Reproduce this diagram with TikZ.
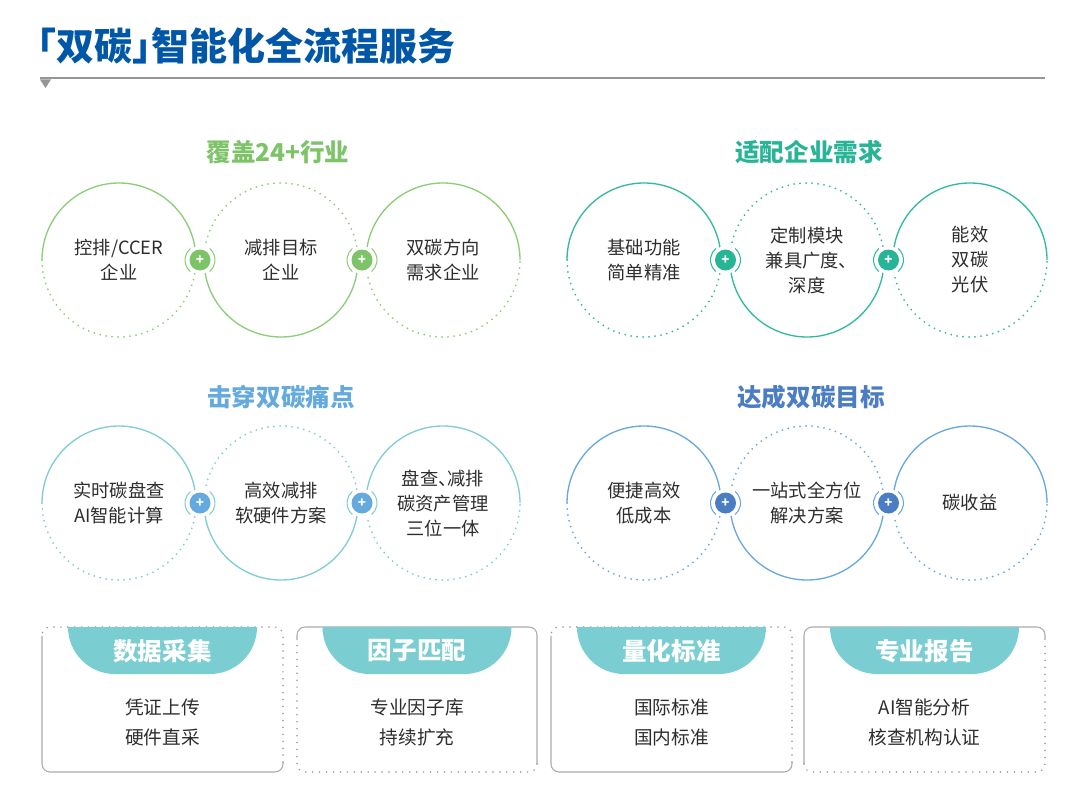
\documentclass[tikz,border=0pt]{standalone}
\usepackage{fontspec}
\setmainfont{Noto Sans CJK SC}[RawFeature=+halt]
\usepackage{tikz}
\usetikzlibrary{calc}
\definecolor{titleblue}{RGB}{0,87,168}
\definecolor{rulegray}{RGB}{150,150,150}
\definecolor{bodytext}{RGB}{45,45,45}
\definecolor{greentitle}{RGB}{125,196,105}
\definecolor{greenline}{RGB}{140,205,120}
\definecolor{tealtitle}{RGB}{40,180,150}
\definecolor{tealline}{RGB}{50,186,156}
\definecolor{skytitle}{RGB}{100,170,222}
\definecolor{skyline}{RGB}{128,205,210}
\definecolor{bluetitle}{RGB}{75,125,195}
\definecolor{blueline}{RGB}{105,168,222}
\definecolor{tabfill}{RGB}{122,205,208}
\tikzset{
  bubble/.style={circle, minimum size=110pt, inner sep=0pt, align=center,
                 font=\fontsize{13.7}{18.75}\selectfont, text=bodytext},
  ringsolid/.style={#1, line width=1pt},
  ringdots/.style={#1, line width=1.5pt, line cap=round, dash pattern=on 0pt off 4.5pt},
  knock/.style={circle, fill=white, minimum size=21pt, inner sep=0pt},
  plusdot/.style={circle, fill=#1, text=white, minimum size=15.75pt, inner sep=0pt,
                  font=\fontsize{10}{10}\selectfont\bfseries},
  grouptitle/.style={font=\fontsize{18.4}{20}\selectfont\bfseries, text=#1},
  boxline/.style={rulegray!80, line width=0.8pt, rounded corners=6pt},
  boxdots/.style={rulegray, line width=1.3pt, line cap=round, dash pattern=on 0pt off 5.2pt,
                  rounded corners=6pt},
  tabtext/.style={font=\fontsize{18.4}{20}\selectfont\bfseries, text=white},
  boxtext/.style={align=center, font=\fontsize{14}{22.5}\selectfont, text=bodytext},
}
\begin{document}
\begin{tikzpicture}[x=0.75pt, y=-0.75pt]
  \useasboundingbox (0,0) rectangle (1077,795);
  % heading and rule
  \node[anchor=west, inner sep=0pt, font=\fontsize{28.5}{30}\selectfont\bfseries, text=titleblue]
    (title) at (37,46) {「双碳」智能化全流程服务};
  \draw[rulegray, line width=0.8pt] (40,78) -- (1045,78);
  \fill[rulegray] (40,79.5) -- (51,79.5) -- (45.5,88) -- cycle;
  % four groups of circles
  \node[grouptitle=greentitle] (g1-t) at (278,152) {覆盖24+行业};
  \node[bubble] (g1-a) at (119,260) {控排/CCER\\企业};
  \node[bubble] (g1-b) at (281,260) {减排目标\\企业};
  \node[bubble] (g1-c) at (443,260) {双碳方向\\需求企业};
  \node[grouptitle=tealtitle] (g2-t) at (809,152) {适配企业需求};
  \node[bubble] (g2-a) at (644,260) {基础功能\\简单精准};
  \node[bubble] (g2-b) at (807,260) {定制模块\\兼具广度、\\深度};
  \node[bubble] (g2-c) at (970,260) {能效\\双碳\\光伏};
  \node[grouptitle=skytitle] (g3-t) at (281,397) {击穿双碳痛点};
  \node[bubble] (g3-a) at (119,503) {实时碳盘查\\AI智能计算};
  \node[bubble] (g3-b) at (281,503) {高效减排\\软硬件方案};
  \node[bubble] (g3-c) at (443,503) {盘查、减排\\碳资产管理\\三位一体};
  \node[grouptitle=bluetitle] (g4-t) at (811,397) {达成双碳目标};
  \node[bubble] (g4-a) at (644,503) {便捷高效\\低成本};
  \node[bubble] (g4-b) at (807,503) {一站式全方位\\解决方案};
  \node[bubble] (g4-c) at (970,503) {碳收益};
  \foreach \g/\col/\pcol in {g1/greenline/greentitle, g2/tealline/tealtitle,
                             g3/skyline/skytitle, g4/blueline/bluetitle} {
    % outer rings: solid top, dotted bottom (middle one the other way)
    \foreach \c in {a,c} {
      \draw[ringsolid=\col] (\g-\c.center) ++(180:77) arc[start angle=180, end angle=360, radius=77];
      \draw[ringdots=\col] (\g-\c.center) ++(180:77) arc[start angle=180, end angle=0, radius=77];
    }
    \draw[ringdots=\col] (\g-b.center) ++(180:77) arc[start angle=180, end angle=360, radius=77];
    \draw[ringsolid=\col] (\g-b.center) ++(180:77) arc[start angle=180, end angle=0, radius=77];
    % plus joints
    \node[knock] (\g-k1) at ($(\g-a)!0.5!(\g-b)$) {};
    \node[knock] (\g-k2) at ($(\g-b)!0.5!(\g-c)$) {};
    \foreach \k in {k1,k2} {
      \draw[\col, line width=0.8pt]
        (\g-\k.center) ++(130:15) arc[start angle=130, end angle=230, radius=15]
        (\g-\k.center) ++(-50:15) arc[start angle=-50, end angle=50, radius=15];
      \node[plusdot=\pcol] (\g-\k p) at (\g-\k) {+};
    }
  }
  % bottom boxes
  \draw[boxline] (42,636) -- (42,772) -- (283,772) -- (283,762);
  \draw[boxdots] (283,762) -- (283,627) -- (42,627) -- (42,636);
  \draw[boxline] (297,640) -- (297,627) -- (537,627) -- (537,764);
  \draw[boxdots] (537,764) -- (537,772) -- (297,772) -- (297,640);
  \draw[boxline] (551,636) -- (551,772) -- (792,772) -- (792,762);
  \draw[boxdots] (792,762) -- (792,627) -- (551,627) -- (551,636);
  \draw[boxline] (1045,640) -- (1045,627) -- (804,627) -- (804,764);
  \draw[boxdots] (804,764) -- (804,772) -- (1045,772) -- (1045,640);
  \foreach \i/\cx/\head/\body in {1/162.5/数据采集/{凭证上传\\硬件直采},
                                  2/417/因子匹配/{专业因子库\\持续扩充},
                                  3/671.5/量化标准/{国际标准\\国内标准},
                                  4/924.5/专业报告/{AI智能分析\\核查机构认证}} {
    \fill[tabfill] (\cx-94.5,627) -- ++(189,0) arc[start angle=0, end angle=90, radius=47]
      -- ++(-95,0) arc[start angle=90, end angle=180, radius=47] -- cycle;
    \node[tabtext] (head\i) at (\cx,651) {\head};
    \node[boxtext] (body\i) at (\cx,722) {\body};
  }
\end{tikzpicture}
\end{document}
